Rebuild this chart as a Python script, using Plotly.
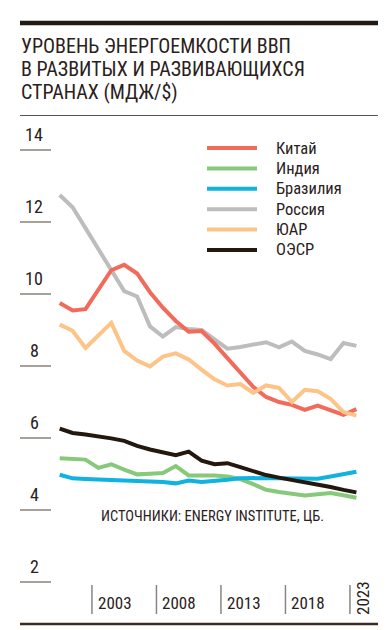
import plotly.graph_objects as go

years = list(range(2000, 2024))
china = [9.75, 9.54, 9.58, 10.13, 10.66, 10.81, 10.57, 10.05, 9.62, 9.25, 8.95, 8.97,
         8.62, 8.22, 7.82, 7.42, 7.14, 7.00, 6.92, 6.78, 6.90, 6.77, 6.64, 6.80]
india = [5.44, 5.42, 5.40, 5.17, 5.27, 5.12, 4.99, 5.01, 5.03, 5.22, 4.96, 4.96,
         4.96, 4.93, 4.86, 4.72, 4.56, 4.50, 4.46, 4.40, 4.44, 4.47, 4.41, 4.34]
brazil = [4.98, 4.88, 4.86, 4.85, 4.84, 4.83, 4.82, 4.81, 4.78, 4.74, 4.82, 4.78,
          4.80, 4.84, 4.88, 4.89, 4.89, 4.88, 4.87, 4.87, 4.87, 4.93, 4.99, 5.06]
russia = [12.75, 12.41, 11.83, 11.25, 10.66, 10.08, 9.93, 9.10, 8.82, 9.08, 9.03, 9.00,
          8.74, 8.48, 8.53, 8.60, 8.66, 8.52, 8.68, 8.42, 8.32, 8.19, 8.64, 8.56]
sa = [9.15, 8.98, 8.50, 8.85, 9.20, 8.42, 8.15, 7.99, 8.26, 8.35, 8.18, 7.90,
      7.63, 7.46, 7.50, 7.25, 7.46, 7.39, 7.00, 7.34, 7.30, 7.09, 6.72, 6.62]
oecd = [6.26, 6.14, 6.10, 6.05, 5.99, 5.92, 5.78, 5.68, 5.60, 5.52, 5.62, 5.37,
        5.27, 5.30, 5.19, 5.07, 4.97, 4.90, 4.84, 4.78, 4.71, 4.64, 4.56, 4.49]

names = ["Китай", "Индия", "Бразилия", "Россия", "ЮАР", "ОЭСР"]
series = [china, india, brazil, russia, sa, oecd]
colors = ["#f26a5a", "#86c97a", "#10b2e0", "#bdbdbd", "#fdc488", "#24170e"]
draw_order = [3, 0, 4, 1, 2, 5]

y_ticks = [2, 4, 6, 8, 10, 12, 14]
x_tick_years = [2003, 2008, 2013, 2018, 2023]
x_tick_labels = ["2003", "2008", "2013", "2018", "2023"]

title_lines = ["УРОВЕНЬ ЭНЕРГОЕМКОСТИ ВВП", "В РАЗВИТЫХ И РАЗВИВАЮЩИХСЯ", "СТРАНАХ (МДЖ/$)"]
source_text = "ИСТОЧНИКИ: ENERGY INSTITUTE, ЦБ."

W, H = 386, 630
FONT = "Roboto Condensed, DejaVu Sans Condensed, sans-serif"
TXT = "#2a211b"

def px(x):
    return x / W

def py(y):
    return 1 - y / H

fig = go.Figure()
for i in draw_order:
    fig.add_trace(go.Scatter(x=years, y=series[i], mode="lines", name=names[i],
                             line=dict(color=colors[i], width=4), showlegend=False,
                             hoverinfo="skip"))

shapes = []
annotations = []

# top thick rule, title rule, bottom rule
shapes.append(dict(type="line", xref="paper", yref="paper", x0=px(12), x1=px(373),
                   y0=py(15), y1=py(15), line=dict(color="#231a12", width=4.5)))
shapes.append(dict(type="line", xref="paper", yref="paper", x0=px(12), x1=px(373),
                   y0=py(107.5), y1=py(107.5), line=dict(color="#5a534d", width=1)))
shapes.append(dict(type="line", xref="paper", yref="paper", x0=px(12), x1=px(373),
                   y0=py(616), y1=py(616), line=dict(color="#3a2a20", width=2.5)))

for k, t in enumerate(title_lines):
    annotations.append(dict(text=t, xref="paper", yref="paper", x=px(10.5), y=py(37.5 + 23.3 * k),
                            xanchor="left", yanchor="middle", showarrow=False,
                            font=dict(family=FONT, size=20, color=TXT)))

# y ticks
for v in y_ticks:
    shapes.append(dict(type="line", xref="paper", yref="y", x0=px(12), x1=px(43),
                       y0=v, y1=v, line=dict(color="#6e6259", width=1.2)))
    annotations.append(dict(text=str(v), xref="paper", yref="y", x=px(26.5), y=v,
                            yshift=16, xanchor="center", yanchor="middle", showarrow=False,
                            font=dict(family=FONT, size=18, color=TXT)))

# x ticks
for yr, lab in zip(x_tick_years, x_tick_labels):
    shapes.append(dict(type="line", xref="x", yref="paper", x0=yr - 0.5, x1=yr - 0.5,
                       y0=py(577), y1=py(606), line=dict(color="#8a8580", width=1.5)))
    if yr == 2023:
        annotations.append(dict(text=lab, xref="x", yref="paper", x=yr - 0.5, y=py(590),
                                xshift=13, textangle=-90, xanchor="center", yanchor="middle",
                                showarrow=False, font=dict(family=FONT, size=17, color=TXT)))
    else:
        annotations.append(dict(text=lab, xref="x", yref="paper", x=yr - 0.5, y=py(595),
                                xshift=4, xanchor="left", yanchor="middle", showarrow=False,
                                font=dict(family=FONT, size=17, color=TXT)))

# legend
for k, (n, c) in enumerate(zip(names, colors)):
    yy = 140 + 20.4 * k
    shapes.append(dict(type="line", xref="paper", yref="paper", x0=px(199), x1=px(249),
                       y0=py(yy), y1=py(yy), line=dict(color=c, width=4)))
    annotations.append(dict(text=n, xref="paper", yref="paper", x=px(265.5), y=py(yy),
                            xanchor="left", yanchor="middle", showarrow=False,
                            font=dict(family=FONT, size=16.5, color=TXT)))

annotations.append(dict(text=source_text, xref="paper", yref="paper", x=px(90.5), y=py(508),
                        xanchor="left", yanchor="middle", showarrow=False,
                        font=dict(family=FONT, size=14.5, color=TXT)))

x0 = 2000 - 51.7 / 12.9
x1 = x0 + W / 12.9
y_top = 14 + 142 / 36
y_bot = 14 - (H - 142) / 36

fig.update_layout(
    width=W, height=H, margin=dict(l=0, r=0, t=0, b=0),
    paper_bgcolor="white", plot_bgcolor="white",
    xaxis=dict(range=[x0, x1], visible=False, fixedrange=True),
    yaxis=dict(range=[y_bot, y_top], visible=False, fixedrange=True),
    shapes=shapes, annotations=annotations, showlegend=False,
)
fig.write_html("out.html", config={"displayModeBar": False})
